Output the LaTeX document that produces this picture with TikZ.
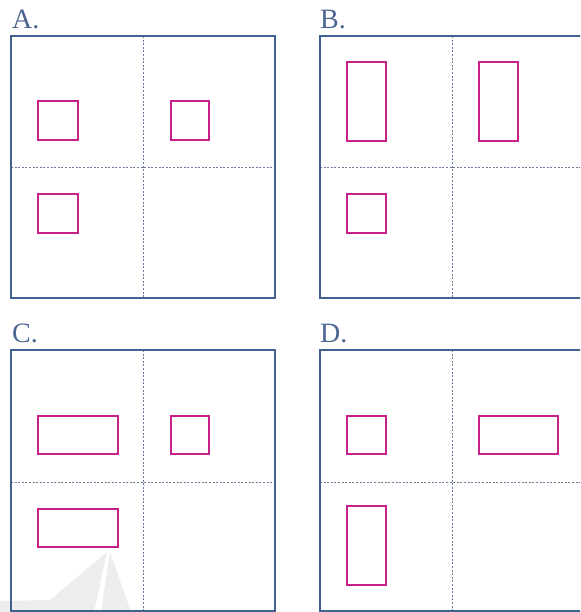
\documentclass[tikz,border=0pt]{standalone}
\usepackage{fontspec}
\setmainfont{Liberation Serif}
\usepackage{xcolor}

\definecolor{framecol}{HTML}{3F6291}
\definecolor{boxcol}{HTML}{C61F8A}
\definecolor{gridcol}{HTML}{6C7A99}
\definecolor{labelcol}{HTML}{4B6690}

\begin{document}
\begin{tikzpicture}[x=1pt, y=-1pt,
    frame/.style={draw=framecol, line width=1.8pt},
    grid line/.style={draw=gridcol, line width=0.9pt, dash pattern=on 2pt off 1.6pt},
    shape box/.style={draw=boxcol, line width=1.8pt},
    panel label/.style={anchor=base west, inner sep=0pt, text=labelcol, font=\fontsize{28}{30}\selectfont}]
    \useasboundingbox (0,0) rectangle (580,612);
    \clip (0,0) rectangle (580,612);

    % watermark
    \fill [gray!14] (107,552) -- (50,600) -- (0,601) -- (0,612) -- (94,612) -- cycle;
    \fill [gray!14] (110,552) -- (101,612) -- (131,612) -- cycle;

    % A
    \node [panel label] (labelA) at (12,29) {A.};
    \draw [grid line] (143,36) -- (143,298);
    \draw [grid line] (11,167) -- (275,167);
    \draw [frame] (11,36) rectangle (275,298);
    \draw [shape box] (38,101) rectangle (78,140);
    \draw [shape box] (171,101) rectangle (209,140);
    \draw [shape box] (38,194) rectangle (78,233);

    % B
    \node [panel label] (labelB) at (320,29) {B.};
    \draw [grid line] (452,36) -- (452,298);
    \draw [grid line] (320,167) -- (584,167);
    \draw [frame] (320,36) rectangle (584,298);
    \draw [shape box] (347,62) rectangle (386,141);
    \draw [shape box] (479,62) rectangle (518,141);
    \draw [shape box] (347,194) rectangle (386,233);

    % C
    \node [panel label] (labelC) at (12,342) {C.};
    \draw [grid line] (143,350) -- (143,611);
    \draw [grid line] (11,482) -- (275,482);
    \draw [frame] (11,350) rectangle (275,611);
    \draw [shape box] (38,416) rectangle (118,454);
    \draw [shape box] (171,416) rectangle (209,454);
    \draw [shape box] (38,509) rectangle (118,547);

    % D
    \node [panel label] (labelD) at (320,342) {D.};
    \draw [grid line] (452,350) -- (452,611);
    \draw [grid line] (320,482) -- (584,482);
    \draw [frame] (320,350) rectangle (584,611);
    \draw [shape box] (347,416) rectangle (386,454);
    \draw [shape box] (479,416) rectangle (558,454);
    \draw [shape box] (347,506) rectangle (386,585);
\end{tikzpicture}
\end{document}
